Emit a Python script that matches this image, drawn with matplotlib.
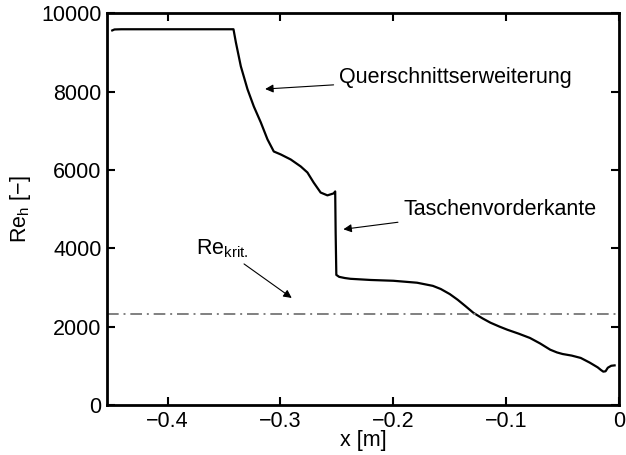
import matplotlib
matplotlib.use("Agg")
import matplotlib.pyplot as plt
import numpy as np

plt.rcParams['font.family'] = ['Liberation Sans', 'DejaVu Sans']

x_vals = [-0.449, -0.447, -0.441, -0.400, -0.3416, -0.3395, -0.3351, -0.3292, -0.3236, -0.3174,
          -0.3115, -0.3059, -0.2997, -0.2909, -0.2820, -0.2761, -0.2706, -0.2644, -0.2584, -0.2529,
          -0.2515, -0.2511, -0.2505, -0.2480, -0.2430, -0.2380, -0.2200, -0.2000, -0.1790, -0.1650,
          -0.1580, -0.1500, -0.1430, -0.1360, -0.1290, -0.1210, -0.1140, -0.1060, -0.0990, -0.0890,
          -0.0790, -0.0700, -0.0610, -0.0550, -0.0500, -0.0420, -0.0340, -0.0260, -0.0190, -0.0160,
          -0.0140, -0.0120, -0.0100, -0.0070, -0.0040]
re_vals = [9560, 9585, 9590, 9590, 9590, 9258, 8645, 8060, 7620, 7212,
           6780, 6470, 6394, 6266, 6087, 5934, 5678, 5422, 5350, 5400,
           5450, 4400, 3320, 3270, 3240, 3220, 3190, 3170, 3120, 3040,
           2960, 2830, 2685, 2520, 2350, 2210, 2100, 2000, 1920, 1820,
           1710, 1570, 1410, 1340, 1300, 1260, 1200, 1080, 960, 890,
           850, 860, 950, 1000, 1010]
re_krit = 2320

xticks = [-0.4, -0.3, -0.2, -0.1, 0]
yticks = [0, 2000, 4000, 6000, 8000, 10000]

fig = plt.figure(figsize=(6.26, 4.55), dpi=100)
ax = fig.add_axes([0.171, 0.110, 0.818, 0.861])

ax.plot(x_vals, re_vals, color='black', lw=1.6, solid_joinstyle='round')
ax.axhline(re_krit, color='#808080', lw=1.4, ls=(0, (6, 2.5, 1, 2.5)))

ax.set_xlim(-0.4536, 0)
ax.set_ylim(0, 10000)
ax.set_xticks(xticks)
ax.set_xticklabels(['\u22120.4', '\u22120.3', '\u22120.2', '\u22120.1', '0'])
ax.set_yticks(yticks)
fs = 15.5
ax.tick_params(direction='in', top=True, right=True, length=6, width=1.5, labelsize=fs, pad=4)
for s in ax.spines.values():
    s.set_linewidth(2)

ax.set_xlabel('x [m]', fontsize=fs, labelpad=-1)
ax.set_ylabel('Re$_\\mathregular{h}$ [\u2212]', fontsize=fs, labelpad=6)

ap = dict(arrowstyle='-|>', color='black', lw=0.8, mutation_scale=12)
ax.annotate('Querschnittserweiterung', xy=(-0.316, 8060), xytext=(-0.248, 8360),
            fontsize=fs, va='center', ha='left', arrowprops=ap)
ax.annotate('Taschenvorderkante', xy=(-0.2467, 4475), xytext=(-0.191, 5000),
            fontsize=fs, va='center', ha='left', arrowprops=ap)
ax.annotate('Re$_\\mathregular{krit.}$', xy=(-0.288, 2690), xytext=(-0.375, 4000),
            fontsize=fs, va='center', ha='left', arrowprops=ap)

fig.savefig('out.png', dpi=100)
